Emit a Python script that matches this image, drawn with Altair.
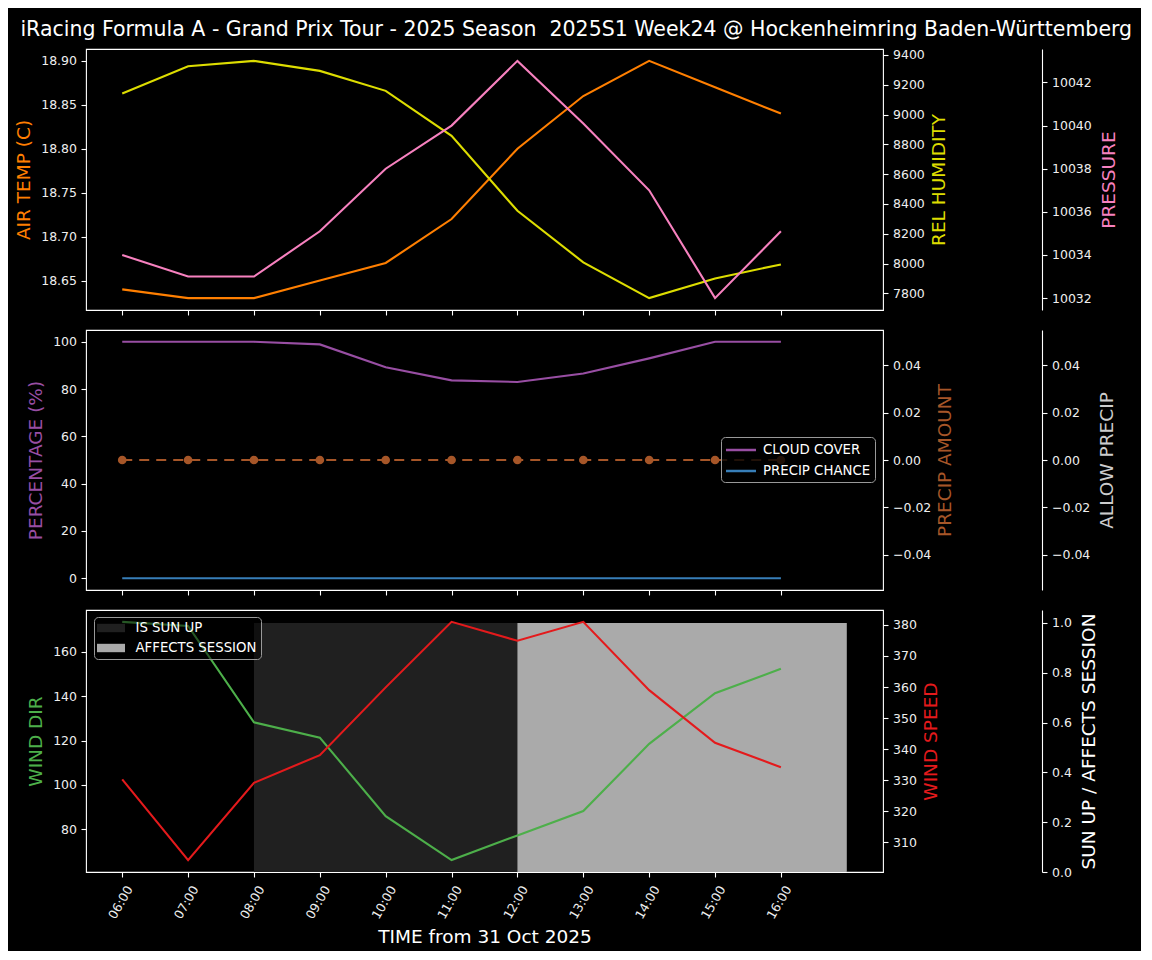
import altair as alt
import pandas as pd

TITLE = "iRacing Formula A - Grand Prix Tour - 2025 Season\u00a0 2025S1 Week24 @ Hockenheimring Baden-Württemberg"
HOURS = [6, 7, 8, 9, 10, 11, 12, 13, 14, 15, 16]
TIME_LABELS = ["06:00", "07:00", "08:00", "09:00", "10:00", "11:00",
               "12:00", "13:00", "14:00", "15:00", "16:00"]
AIR_TEMP = [18.64, 18.63, 18.63, 18.65, 18.67, 18.72, 18.80, 18.86, 18.90, 18.87, 18.84]
REL_HUMIDITY = [9141, 9324, 9360, 9293, 9159, 8857, 8354, 8008, 7768, 7900, 7994]
PRESSURE = [10034.0, 10033.0, 10033.0, 10035.1, 10038.0, 10040.0, 10043.0,
            10040.1, 10037.0, 10032.0, 10035.1]
CLOUD_COVER = [100, 100, 100, 98.9, 89.2, 83.7, 83.0, 86.6, 93.0, 100, 100]
PRECIP_CHANCE = [0, 0, 0, 0, 0, 0, 0, 0, 0, 0, 0]
PRECIP_AMOUNT = [0, 0, 0, 0, 0, 0, 0, 0, 0, 0, 0]
ALLOW_PRECIP = [0, 0, 0, 0, 0, 0, 0, 0, 0, 0, 0]
WIND_DIR = [173.4, 171.6, 128.2, 121.3, 86.0, 66.2, 77.3, 88.3, 118.5, 141.3, 152.3]
WIND_SPEED = [330.3, 304.3, 329.2, 338.1, 359.9, 381.0, 374.9, 381.0, 359.0, 342.1, 334.2]
SHADE_HOURS = [6, 7, 8, 9, 10, 11, 12, 13, 14, 15, 16, 17]
IS_SUN_UP = [0, 0, 1, 1, 1, 1, 1, 1, 1, 1, 1, 1]
AFFECTS_SESSION = [0, 0, 0, 0, 0, 0, 1, 1, 1, 1, 1, 1]

FONT = "DejaVu Sans"
W, H1, H2, H3 = 797, 261, 260, 262
XDOM = [5.45, 17.55]

df = pd.DataFrame({
    "hour": HOURS, "air": AIR_TEMP, "hum": REL_HUMIDITY, "pres": PRESSURE,
    "amount": PRECIP_AMOUNT, "allow": ALLOW_PRECIP,
    "wdir": WIND_DIR, "wspd": WIND_SPEED,
})
pct = pd.concat([
    pd.DataFrame({"hour": HOURS, "val": CLOUD_COVER, "series": "CLOUD COVER", "o": 0}),
    pd.DataFrame({"hour": HOURS, "val": PRECIP_CHANCE, "series": "PRECIP CHANCE", "o": 1}),
])
shade_sun = pd.DataFrame({"hour": SHADE_HOURS, "val": IS_SUN_UP, "series": "IS SUN UP"})
shade_aff = pd.DataFrame({"hour": SHADE_HOURS, "val": AFFECTS_SESSION, "series": "AFFECTS SESSION"})

label_expr = "[" + ",".join("'%s'" % t for t in TIME_LABELS) + "][datum.value - 6]"


def xenc(show_labels=False):
    ax = alt.Axis(values=HOURS, labels=show_labels, title=None, ticks=True,
                  tickSize=5, tickColor="white", tickWidth=1.1, domain=False, grid=False)
    if show_labels:
        ax = alt.Axis(values=HOURS, labels=True, labelExpr=label_expr, labelAngle=-60,
                      labelAlign="center", labelBaseline="middle", labelPadding=25, labelOffset=-2,
                      labelColor="#eeeeee", labelFontSize=12.5,
                      title="TIME from 31 Oct 2025", titleColor="white", titleFontSize=18.5,
                      titleFontWeight="normal", titlePadding=7,
                      ticks=True, tickSize=5, tickColor="white", tickWidth=1.1,
                      domain=False, grid=False)
    return alt.X("hour:Q", scale=alt.Scale(domain=XDOM, nice=False, zero=False), axis=ax)


def yaxis(title, color, orient="left", offset=0, domain_line=False, values=None, fmt=None, tpad=None):
    kw = dict(title=title, titleColor=color, orient=orient, offset=offset,
              domain=domain_line, domainColor="white", domainWidth=1.1,
              ticks=True, tickColor="white", tickSize=5, tickWidth=1.1,
              labelColor="#eeeeee", labelFontSize=12.5, labelPadding=4.5,
              titleFontSize=18.5, titleFontWeight="normal", grid=False)
    if values is not None:
        kw["values"] = values
    if fmt is not None:
        kw["format"] = fmt
    if orient == "right":
        kw.update(titleAngle=270, titleBaseline="top", titlePadding=5 if tpad is None else tpad)
    else:
        kw.update(titlePadding=7)
    return alt.Axis(**kw)


def yenc(field, dom, axis):
    return alt.Y(field + ":Q", scale=alt.Scale(domain=dom, nice=False, zero=False), axis=axis)


# ---------- top panel ----------
base = alt.Chart(df)
t_air = base.mark_line(color="#ff7f00", strokeWidth=2.1).encode(
    x=xenc(), y=yenc("air", [18.6165, 18.9135],
                     yaxis("AIR TEMP (C)", "#ff7f00", values=[18.65, 18.70, 18.75, 18.80, 18.85, 18.90], fmt=".2f")))
t_hum = base.mark_line(color="#dddd00", strokeWidth=2.1).encode(
    x=xenc(), y=yenc("hum", [7688, 9440],
                     yaxis("REL HUMIDITY", "#dddd00", "right", values=list(range(7800, 9401, 200)), fmt="d")))
t_pres = base.mark_line(color="#f781bf", strokeWidth=2.1).encode(
    x=xenc(), y=yenc("pres", [10031.45, 10043.55],
                     yaxis("PRESSURE", "#f781bf", "right", 159, True, values=list(range(10032, 10043, 2)),
                           fmt="d", tpad=8)))
top = alt.layer(t_air, t_hum, t_pres).resolve_scale(y="independent").properties(width=W, height=H1)

# ---------- middle panel ----------
pct_lines = alt.Chart(pct).mark_line(strokeWidth=2.1).encode(
    x=xenc(),
    y=yenc("val", [-5, 105], yaxis("PERCENTAGE (%)", "#984ea3", values=[0, 20, 40, 60, 80, 100])),
    color=alt.Color("series:N",
                    scale=alt.Scale(domain=["CLOUD COVER", "PRECIP CHANCE"], range=["#984ea3", "#377eb8"]),
                    legend=alt.Legend(title=None, orient="none", legendX=635, legendY=107,
                                      symbolType="M-2,0L2,0", symbolStrokeWidth=2.5, symbolSize=225,
                                      symbolOffset=7,
                                      labelColor="white", labelFontSize=13.3, labelFont=FONT,
                                      fillColor="rgba(0,0,0,0.8)", strokeColor="#999999",
                                      cornerRadius=4, padding=4, rowPadding=5, labelOffset=13)),
    detail="o:N",
)
amt_axis = yaxis("PRECIP AMOUNT", "#a65628", "right", values=[-0.04, -0.02, 0, 0.02, 0.04], fmt=".2f")
m_amt_line = base.mark_line(color="#a65628", strokeWidth=2.1, strokeDash=[10, 7]).encode(
    x=xenc(), y=yenc("amount", [-0.055, 0.055], amt_axis))
m_amt_pts = base.mark_circle(color="#a65628", size=75, opacity=1).encode(
    x=xenc(), y=yenc("amount", [-0.055, 0.055], amt_axis))
m_amt = alt.layer(m_amt_line, m_amt_pts)
m_allow = base.mark_line(opacity=0).encode(
    x=xenc(), y=yenc("allow", [-0.055, 0.055],
                     yaxis("ALLOW PRECIP", "#cccccc", "right", 159, True,
                           values=[-0.04, -0.02, 0, 0.02, 0.04], fmt=".2f", tpad=8)))
mid = alt.layer(pct_lines, m_amt, m_allow).resolve_scale(y="independent").properties(width=W, height=H2)

# ---------- bottom panel ----------
sun_axis = yaxis("SUN UP / AFFECTS SESSION", "white", "right", 159, True,
                 values=[0, 0.2, 0.4, 0.6, 0.8, 1.0], fmt=".1f", tpad=8)
shade_color = alt.Color("series:N",
                        scale=alt.Scale(domain=["IS SUN UP", "AFFECTS SESSION"], range=["#202020", "#aaaaaa"]),
                        legend=alt.Legend(title=None, orient="none", legendX=8, legendY=7,
                                          symbolType="M-2,-0.6L2,-0.6L2,0.6L-2,0.6Z", symbolSize=196,
                                          symbolOffset=6,
                                          symbolStrokeWidth=0, labelColor="white", labelFontSize=13.3,
                                          labelFont=FONT, fillColor="rgba(0,0,0,0.5)", strokeColor="#999999",
                                          cornerRadius=4, padding=4, rowPadding=6, labelOffset=17.5))
b_sun = alt.Chart(shade_sun).mark_area(interpolate="step-after", opacity=1).encode(
    x=xenc(True), y=yenc("val", [0, 1.052], sun_axis), color=shade_color)
b_aff = alt.Chart(shade_aff).mark_area(interpolate="step-after", opacity=1).encode(
    x=xenc(True), y=yenc("val", [0, 1.052], sun_axis), color=shade_color)
b_shade = alt.layer(b_sun, b_aff)
b_dir = base.mark_line(color="#4daf4a", strokeWidth=2.1).encode(
    x=xenc(True), y=yenc("wdir", [60.84, 178.76],
                         yaxis("WIND DIR", "#4daf4a", values=[80, 100, 120, 140, 160], fmt="d")))
b_spd = base.mark_line(color="#e41a1c", strokeWidth=2.1).encode(
    x=xenc(True), y=yenc("wspd", [300.5, 384.8],
                         yaxis("WIND SPEED", "#e41a1c", "right", values=list(range(310, 381, 10)), fmt="d")))
bot = alt.layer(b_shade, b_dir, b_spd).resolve_scale(y="independent").properties(width=W, height=H3)

chart = alt.vconcat(top, mid, bot, spacing=20, bounds="flush").resolve_scale(
    color="independent").resolve_legend(color="independent").properties(
    title=alt.TitleParams(TITLE, fontSize=20.5, color="white", font=FONT, fontWeight="normal",
                          anchor="middle", offset=8, dx=10),
    background="black",
    padding={"left": 6, "top": 11, "right": 8, "bottom": 4},
).configure(font=FONT).configure_view(stroke="white", strokeWidth=1.1)

chart.save("out.html", embed_options={"renderer": "svg", "actions": False})
